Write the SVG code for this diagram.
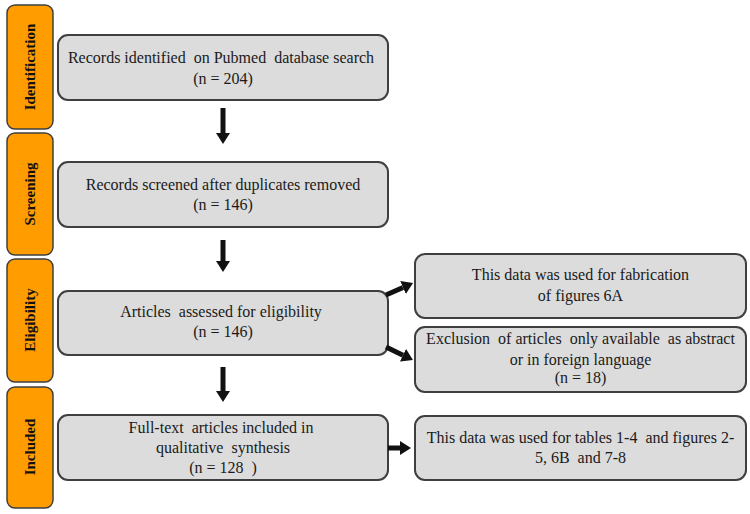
<svg xmlns="http://www.w3.org/2000/svg" width="750" height="514" viewBox="0 0 750 514">
<defs>
<style>
.stage{fill:#FF9C00;stroke:#3f3f3f;stroke-width:1.5}
.box{fill:#DCDCDC;stroke:#3f3f3f;stroke-width:2}
.lbl{font-family:'Liberation Serif',serif;font-size:15px;font-weight:bold;fill:#111;text-anchor:middle}
.t{font-family:'Liberation Serif',serif;font-size:16px;fill:#1a1a1a;text-anchor:middle;white-space:pre}
.arr{stroke:#111;stroke-width:5;fill:none;marker-end:url(#ah)}
</style>
<marker id="ah" markerUnits="userSpaceOnUse" markerWidth="12" markerHeight="14" refX="0" refY="7" orient="auto">
<path d="M0,0 L11,7 L0,14 z" fill="#111"/>
</marker>
</defs>
<rect width="750" height="514" fill="#fff"/>
<g id="stage-identification"><rect class="stage" x="7" y="5" width="46" height="124" rx="8"/><text class="lbl" transform="translate(35,67) rotate(-90)">Identification</text></g>
<g id="stage-screening"><rect class="stage" x="7" y="133" width="46" height="122" rx="8"/><text class="lbl" transform="translate(35,194) rotate(-90)">Screening</text></g>
<g id="stage-eligibility"><rect class="stage" x="7" y="259" width="46" height="123" rx="8"/><text class="lbl" transform="translate(35,320) rotate(-90)">Eligibility</text></g>
<g id="stage-included"><rect class="stage" x="7" y="387" width="46" height="121" rx="8"/><text class="lbl" transform="translate(35,447) rotate(-90)">Included</text></g>
<g id="records-identified"><rect class="box" x="58" y="35" width="330" height="65" rx="10"/><text class="t" x="221" y="63" xml:space="preserve">Records identified  on Pubmed  database search</text><text class="t" x="223" y="84">(n = 204)</text></g>
<g id="records-screened"><rect class="box" x="58" y="162" width="330" height="65" rx="10"/><text class="t" x="223" y="190">Records screened after duplicates removed</text><text class="t" x="223" y="210">(n = 146)</text></g>
<g id="articles-assessed"><rect class="box" x="58" y="291" width="330" height="64" rx="10"/><text class="t" x="221" y="317" xml:space="preserve">Articles  assessed for eligibility</text><text class="t" x="223" y="337">(n = 146)</text></g>
<g id="full-text-included"><rect class="box" x="58" y="415" width="330" height="65" rx="10"/><text class="t" x="221" y="433" xml:space="preserve">Full-text  articles included in</text><text class="t" x="223" y="453" xml:space="preserve">qualitative  synthesis</text><text class="t" x="223" y="473" xml:space="preserve">(n = 128  )</text></g>
<g id="data-figures-6a"><rect class="box" x="415" y="254" width="331" height="64" rx="10"/><text class="t" x="580.5" y="280">This data was used for fabrication</text><text class="t" x="580.5" y="301">of figures 6A</text></g>
<g id="exclusion"><rect class="box" x="415" y="327" width="331" height="65" rx="10"/><text class="t" x="580.5" y="344" xml:space="preserve">Exclusion  of articles  only available  as abstract</text><text class="t" x="580.5" y="365">or in foreign language</text><text class="t" x="580.5" y="383">(n = 18)</text></g>
<g id="data-tables"><rect class="box" x="415" y="416" width="331" height="64" rx="10"/><text class="t" x="580.5" y="443" xml:space="preserve">This data was used for tables 1-4  and figures 2-</text><text class="t" x="580.5" y="463" xml:space="preserve">5, 6B  and 7-8</text></g>
<g id="connectors">
<line class="arr" x1="223" y1="108" x2="223" y2="133"/>
<line class="arr" x1="223" y1="240" x2="223" y2="261"/>
<line class="arr" x1="223" y1="367" x2="223" y2="391"/>
<line class="arr" x1="386" y1="295" x2="403" y2="287.5"/>
<line class="arr" x1="386" y1="347" x2="403" y2="355.2"/>
<line class="arr" x1="388" y1="448" x2="400" y2="448"/>
</g>
</svg>
